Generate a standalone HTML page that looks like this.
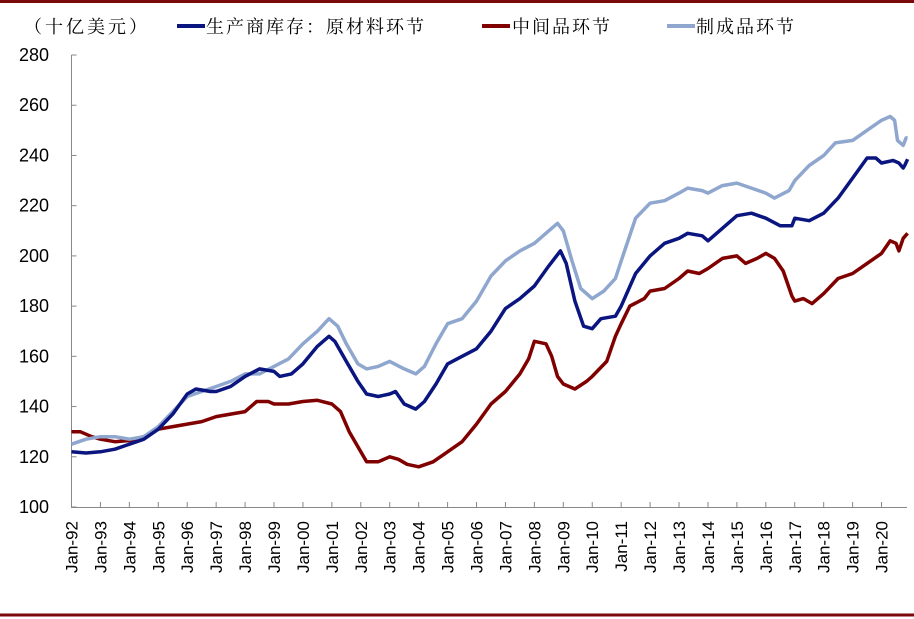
<!DOCTYPE html>
<html><head><meta charset="utf-8"><style>
html,body{margin:0;padding:0;background:#fff;width:914px;height:619px;overflow:hidden}
text{font-family:"Liberation Sans",sans-serif}
.cn{font-family:"Liberation Serif","Noto Serif CJK SC",serif;font-size:18px;letter-spacing:2px}
</style></head><body>
<svg id="s" width="914" height="619" xmlns="http://www.w3.org/2000/svg">
<line x1="0" y1="1.5" x2="914" y2="1.5" stroke="#7a0a0a" stroke-width="3"/>
<line x1="0" y1="615" x2="914" y2="615" stroke="#7a0a0a" stroke-width="3"/>
<text class="cn" x="24" y="33" style="letter-spacing:3px">（十亿美元）</text>
<line x1="177" y1="26" x2="205" y2="26" stroke="#0a1580" stroke-width="4"/>
<text class="cn" x="206" y="33">生产商库存：原材料环节</text>
<line x1="482" y1="26" x2="510" y2="26" stroke="#800000" stroke-width="4"/>
<text class="cn" x="512" y="33">中间品环节</text>
<line x1="667" y1="26" x2="695" y2="26" stroke="#8fa6cf" stroke-width="4"/>
<text class="cn" x="696" y="33">制成品环节</text>
<g id="ax" stroke="#888" stroke-width="1" fill="none"></g>
<g id="lbl"></g>
<g id="ser" fill="none" stroke-width="3.5" stroke-linejoin="round"></g>
</svg>
<script>
var NS="http://www.w3.org/2000/svg";
function el(t,a,p,txt){var e=document.createElementNS(NS,t);for(var k in a)e.setAttribute(k,a[k]);if(txt)e.textContent=txt;p.appendChild(e);return e;}
var X0=71.5,XS=28.93,Y0=507,YS=2.511;
function X(y){return X0+(y-1992)*XS}function Y(v){return Y0-(v-100)*YS}
var ax=document.getElementById('ax'),lb=document.getElementById('lbl');
el('path',{d:'M71.5,55 V507.5 H907'},ax);
for(var v=100;v<=280;v+=20){var y=Y(v);el('line',{x1:71.5,y1:y,x2:76.5,y2:y},ax);
el('text',{x:49,y:y+6,'text-anchor':'end','font-size':'18'},lb,String(v));}
for(var i=0;i<=28;i++){var x=X(1992+i);el('line',{x1:x,y1:507,x2:x,y2:502},ax);
var yy=(92+i)%100;var s='Jan-'+(yy<10?'0':'')+yy;
el('text',{x:0,y:0,'font-size':'17','text-anchor':'end',transform:'translate('+(x+6)+',521) rotate(-90)'},lb,s);}
var blue=[1992,122,1992.5,121.5,1993,122,1993.5,123,1994,125,1994.5,127,1995,131,1995.5,137,1996,145,1996.3,147,1996.8,146,1997,146,1997.5,148,1998,152,1998.5,155,1999,154,1999.2,152,1999.6,153,2000,157,2000.5,164,2000.9,168,2001.1,166,2001.5,158,2001.9,150,2002.2,145,2002.6,144,2003,145,2003.2,146,2003.5,141,2003.9,139,2004.2,142,2004.6,149,2005,157,2005.5,160,2006,163,2006.5,170,2007,179,2007.5,183,2008,188,2008.5,196,2008.9,202,2009.1,197,2009.4,182,2009.7,172,2010,171,2010.3,175,2010.8,176,2011,180,2011.5,193,2012,200,2012.5,205,2013,207,2013.3,209,2013.8,208,2014,206,2014.5,211,2015,216,2015.5,217,2016,215,2016.5,212,2016.9,212,2017,215,2017.5,214,2018,217,2018.5,223,2019,231,2019.5,239,2019.8,239,2020,237,2020.4,238,2020.6,237,2020.75,235,2020.8,236,2020.9,238.5];
var light=[1992,125,1992.5,127,1993,128,1993.5,128,1994,127,1994.5,128,1995,132,1995.5,138,1996,144,1996.5,146,1997,148,1997.5,150,1998,153,1998.5,153,1999,156,1999.5,159,2000,165,2000.5,170,2000.9,175,2001.2,172,2001.5,165,2001.9,157,2002.2,155,2002.6,156,2003,158,2003.5,155,2003.9,153,2004.2,156,2004.6,165,2005,173,2005.5,175,2006,182,2006.5,192,2007,198,2007.5,202,2008,205,2008.5,210,2008.8,213,2009,210,2009.3,198,2009.6,187,2010,183,2010.4,186,2010.8,191,2011,198,2011.5,215,2012,221,2012.5,222,2013,225,2013.3,227,2013.8,226,2014,225,2014.5,228,2015,229,2015.5,227,2016,225,2016.3,223,2016.8,226,2017,230,2017.5,236,2018,240,2018.4,245,2019,246,2019.5,250,2020,254,2020.3,255.5,2020.45,254,2020.55,246,2020.75,244,2020.85,247,2020.9,247];
var red=[1992,130,1992.3,130,1992.7,128,1993,127,1993.5,126,1994,126.5,1994.5,128,1995,131,1995.5,132,1996,133,1996.5,134,1997,136,1997.5,137,1998,138,1998.4,142,1998.8,142,1999,141,1999.5,141,2000,142,2000.5,142.5,2001,141,2001.3,138,2001.6,130,2001.9,124,2002.2,118,2002.6,118,2003,120,2003.3,119,2003.6,117,2004,116,2004.5,118,2005,122,2005.5,126,2006,133,2006.5,141,2007,146,2007.5,153,2007.8,159,2008,166,2008.4,165,2008.6,160,2008.8,152,2009,149,2009.4,147,2009.8,150,2010,152,2010.5,158,2010.8,168,2011,173,2011.3,180,2011.8,183,2012,186,2012.5,187,2013,191,2013.3,194,2013.7,193,2014,195,2014.5,199,2015,200,2015.3,197,2015.7,199,2016,201,2016.3,199,2016.6,194,2016.9,184,2017,182,2017.3,183,2017.6,181,2018,185,2018.5,191,2019,193,2019.5,197,2020,201,2020.3,206,2020.5,205,2020.6,202,2020.75,207,2020.9,209];
var g=document.getElementById('ser');
function draw(a,c){var p=[];for(var i=0;i<a.length;i+=2)p.push(X(a[i]).toFixed(1)+','+Y(a[i+1]).toFixed(1));el('polyline',{points:p.join(' '),stroke:c},g);}
draw(red,'#800000');draw(light,'#8fa6cf');draw(blue,'#0a1580');
</script>
</body></html>
